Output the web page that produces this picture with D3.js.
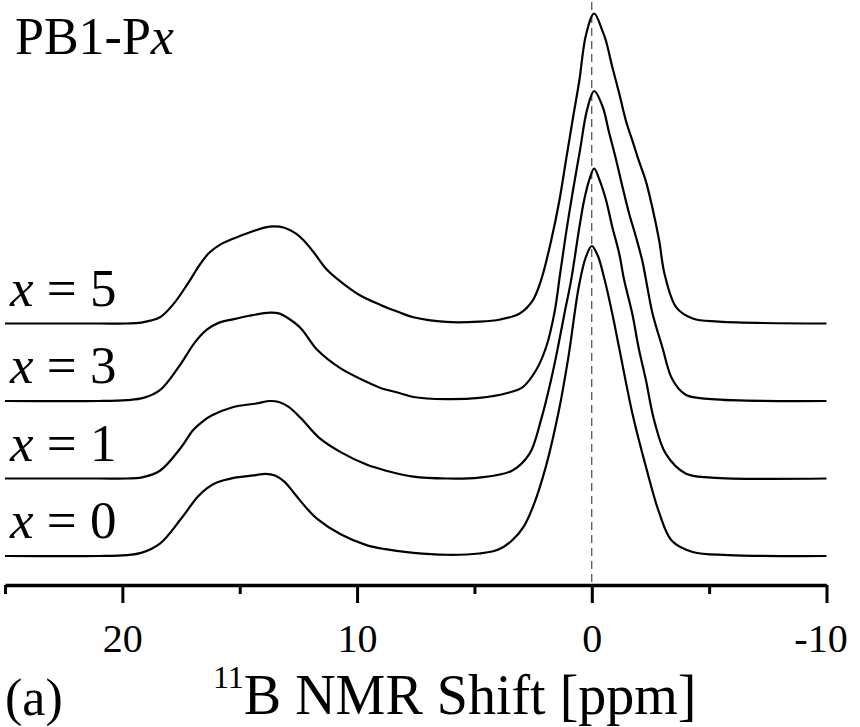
<!DOCTYPE html>
<html>
<head>
<meta charset="utf-8">
<script src="https://cdnjs.cloudflare.com/ajax/libs/d3/7.8.5/d3.min.js"></script>
<style>
body { margin: 0; background: #fff; }
svg { display: block; font-family: "Liberation Serif", "Times New Roman", serif; }
</style>
</head>
<body>
<svg id="chart" width="860" height="727"></svg>
<script>
// ---- Data: 11B MAS NMR spectra, [shift (ppm), normalised intensity] ----
const specX0 = [
    [25,0],[21,0],[19.8,0.3],[19.2,1],[18.4,4],[17.5,12],[16.8,19],[16.4,21.8],[16.0,23.6],[15.25,25.2],
    [14.4,26],[13.9,26.5],[13.5,26],[13.1,24],[12.6,19.5],[12.1,15],[11.7,12],[10.7,7],[9.6,3.5],[8.8,2.2],
    [7.6,1],[6.2,0.4],[4.8,0.8],[4.0,2],[3.4,5],[2.9,9.5],[2.5,16],[1.95,29],[1.4,47],[1.0,64],
    [0.55,87],[0.25,96.5],[0,100],[-0.25,97],[-0.55,89],[-0.85,79],[-1.17,67],[-1.73,46],[-2.3,29],[-2.87,14],
    [-3.4,5],[-4.3,1.3],[-5.8,0.3],[-10,0]
];
const specX1 = [
    [25,0],[21,0],[19.8,0],[19.2,0.3],[18.4,2.5],[17.5,10],[17.0,15.5],[16.6,18.3],[16.2,20.3],[15.3,23],
    [14.3,24.2],[13.7,25],[13.3,24.6],[12.9,23],[12.4,19.5],[11.6,13],[10.7,8.5],[9.6,4.5],[8.8,2.6],[7.6,0.6],
    [6.2,0],[4.8,0.3],[3.4,2.5],[2.65,8],[2.16,19],[1.73,32],[1.45,42],[1.17,53],[0.88,64],[0.53,81],
    [0.32,90],[0.1,96.5],[-0.1,100],[-0.32,96.5],[-0.6,90],[-0.88,81],[-1.17,72.5],[-1.38,64],[-1.73,53],
    [-2.0,42],[-2.3,32],[-2.65,19],[-3.15,8],[-4.0,1.6],[-5.1,0.3],[-10,0]
];
const specX3 = [
    [25,0],[21,0],[19.8,0.3],[19.1,1],[18.4,3.5],[17.6,11],[16.9,19],[16.4,23],[15.9,25.2],[15.2,26.5],
    [14.6,27.5],[13.7,28.5],[13.3,28.2],[13.0,27],[12.4,23.5],[11.7,16.5],[10.7,10.5],[9.6,6.2],[9.0,4.2],[8.2,2.6],
    [7.6,1.3],[6.2,0.6],[4.8,1],[3.64,2.5],[2.94,4.5],[2.37,10],[1.94,17.5],[1.59,28.5],[1.35,41],[1.1,54],
    [0.8,68],[0.5,81],[0.2,94],[-0.1,100],[-0.46,95],[-0.74,86.5],[-1.03,78],[-1.31,69],[-1.59,60.5],[-1.88,53],
    [-2.16,45],[-2.3,39.5],[-2.58,28.5],[-3.0,17.5],[-3.43,7],[-4.0,2],[-5.1,0.6],[-10,0]
];
const specX5 = [
    [25,0],[21,0],[19.8,0],[19.2,0.3],[18.4,2],[17.8,6.5],[17.2,13],[16.7,19],[16.3,22.8],[15.8,25.6],
    [15.2,27.6],[14.5,29.6],[13.9,31],[13.55,31.3],[13.1,30.9],[12.6,29],[12.3,27],[11.85,23],[11.3,17.5],[10.7,13.5],
    [9.9,9.2],[9.0,6],[8.2,3.6],[7.6,2],[6.2,0.5],[4.8,0.6],[3.9,1.3],[3.08,3.2],[2.52,7.4],[2.16,14],
    [1.73,26.8],[1.38,39.7],[1.1,52.6],[0.82,65.5],[0.53,78.4],[0.25,93],[-0.1,100],[-0.45,94.5],[-0.6,91.3],
    [-0.88,82.6],[-1.17,74.2],[-1.45,65.5],[-1.73,59],[-2.0,52.6],[-2.3,46],[-2.58,37.4],[-2.87,26.8],[-3.1,16],
    [-3.6,5.2],[-4.3,1.6],[-5.4,0.6],[-10,0]
];
const xValues = [0, 1, 3, 5];            // sample labels, bottom to top
const spectra = [specX0, specX1, specX3, specX5];
const majorTicks = [20, 10, 0, -10];
const minorTicks = [25, 15, 5, -5];

// ---- Scales ----
const svg = d3.select("#chart");
const stackStep = 25;                   // vertical offset between stacked traces
const x = d3.scaleLinear().domain([25, -10]).range([5, 826.5]);
const y = d3.scaleLinear().domain([0, 175]).range([556, 13.5]);
const axisY = 585;

// Reference line at 0 ppm
svg.append("line")
    .attr("x1", x(0)).attr("x2", x(0))
    .attr("y1", 2).attr("y2", axisY)
    .attr("stroke", "#222")
    .attr("stroke-width", 1)
    .attr("stroke-dasharray", "8,5");

// ---- Spectra ----
// centripetal Catmull-Rom keeps the traces smooth without big overshoot
const line = d3.line()
    .x(d => x(d[0]))
    .y(d => y(d[1]))
    .curve(d3.curveCatmullRom.alpha(0.5));

svg.append("g").classed("traces", true)
    .selectAll("path")
    .data(spectra.map((s, i) => s.map(p => [p[0], p[1] + i * stackStep])))
    .join("path")
        .attr("d", line)
        .attr("fill", "none")
        .attr("stroke", "#000")
        .attr("stroke-width", 2.2)
        .attr("stroke-linejoin", "round");

// Labels "x = n"
const lab = svg.append("g").selectAll("text")
    .data(xValues)
    .join("text")
        .attr("x", 10)
        .attr("y", (d, i) => y(i * stackStep) - 18)
        .attr("font-size", 53);
lab.append("tspan").attr("font-style", "italic").text("x");
lab.append("tspan").text(d => " = " + d);

// ---- Axis ----
const ax = svg.append("g")
    .attr("transform", `translate(0,${axisY})`)
    .call(d3.axisBottom(x)
        .tickValues(majorTicks)
        .tickSize(18)
        .tickSizeOuter(0)
        .tickPadding(21)
        .tickFormat(d => String(d)))
    .attr("font-size", null)
    .attr("font-family", null);
ax.select(".domain").attr("stroke", "#000").attr("stroke-width", 3.5);
ax.selectAll(".tick line").attr("stroke", "#000").attr("stroke-width", 3);
ax.selectAll(".tick text")
    .attr("font-size", 40)
    .attr("fill", "#000")
    .attr("dx", d => d < 0 ? -6 : 0);   // "-10" sits a bit left of its tick

const axMinor = svg.append("g")
    .attr("transform", `translate(0,${axisY})`)
    .call(d3.axisBottom(x)
        .tickValues(minorTicks)
        .tickSize(9)
        .tickSizeOuter(0)
        .tickFormat(""));
axMinor.select(".domain").remove();
axMinor.selectAll(".tick line").attr("stroke", "#000").attr("stroke-width", 3);

// Axis title with superscript
const title = svg.append("text")
    .attr("x", 213)
    .attr("y", 714)
    .attr("font-size", 56);
title.append("tspan").attr("font-size", 32).attr("dy", -26).text("11");
title.append("tspan").attr("dy", 26).text("B NMR Shift [ppm]");

// Panel label and sample name
svg.append("text")
    .attr("x", 5).attr("y", 715)
    .attr("font-size", 52)
    .text("(a)");

const name = svg.append("text")
    .attr("x", 15).attr("y", 54)
    .attr("font-size", 52);
name.append("tspan").text("PB1-P");
name.append("tspan").attr("font-style", "italic").text("x");
</script>
</body>
</html>
